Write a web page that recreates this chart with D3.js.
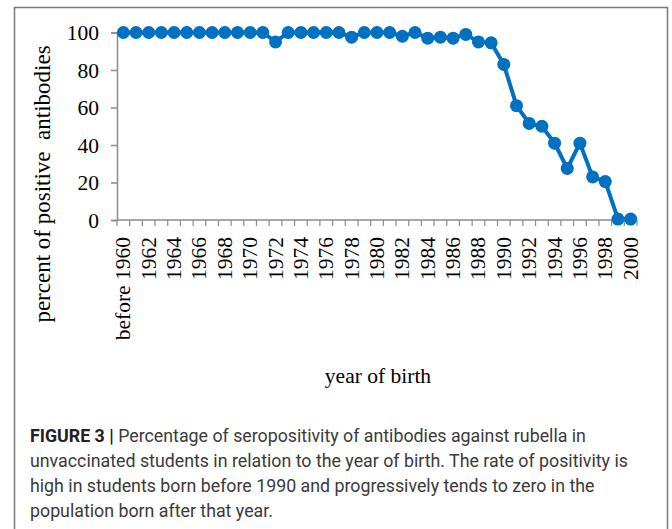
<!DOCTYPE html>
<html>
<head>
<meta charset="utf-8">
<script src="https://cdn.jsdelivr.net/npm/d3@7"></script>
<style>
  body { margin: 0; background: #fff; }
  svg { display: block; }
</style>
</head>
<body>
<div id="chart"></div>
<script>
// year of birth categories (one per point)
const years = ["before 1960", "1961", "1962", "1963", "1964", "1965", "1966", "1967", "1968", "1969",
  "1970", "1971", "1972", "1973", "1974", "1975", "1976", "1977", "1978", "1979",
  "1980", "1981", "1982", "1983", "1984", "1985", "1986", "1987", "1988", "1989",
  "1990", "1991", "1992", "1993", "1994", "1995", "1996", "1997", "1998", "1999", "2000"];

// percent of positive antibodies
const percentPositive = [100, 100, 100, 100, 100, 100, 100, 100, 100, 100,
  100, 100, 95, 100, 100, 100, 100, 100, 97.5, 100,
  100, 100, 98, 100, 97, 97.5, 97, 99, 95, 94.5,
  83, 61, 51.5, 50, 41, 27.5, 41, 23, 20.5, 0.5, 0.5];

// only every other year gets a label
const shownLabels = ["before 1960", "1962", "1964", "1966", "1968", "1970", "1972", "1974", "1976", "1978",
  "1980", "1982", "1984", "1986", "1988", "1990", "1992", "1994", "1996", "1998", "2000"];

const yTicks = [0, 20, 40, 60, 80, 100];

const captionLines = [
  "Percentage of seropositivity of antibodies against rubella in",
  "unvaccinated students in relation to the year of birth. The rate of positivity is",
  "high in students born before 1990 and progressively tends to zero in the",
  "population born after that year."
];

const W = 672, H = 529;
const blue = "#0070c0";
const axisGrey = "#8c8c8c";
const serif = "'Liberation Serif', 'Times New Roman', serif";

const svg = d3.select("#chart").append("svg")
  .attr("width", W)
  .attr("height", H);

// frame around the whole figure (open at bottom)
svg.append("path")
  .attr("d", `M14.5,${H} V7.5 H667.5 V${H}`)
  .attr("fill", "none")
  .attr("stroke", "#7a7a7a")
  .attr("stroke-width", 1.5);

const x = d3.scaleBand()
  .domain(years)
  .range([117, 637]);

const y = d3.scaleLinear()
  .domain([0, 100])
  .range([220, 32.5]);

// y axis
const yAxis = svg.append("g")
  .attr("transform", "translate(117,0)")
  .call(d3.axisLeft(y).tickValues(yTicks).tickSize(6).tickPadding(12));
yAxis.select(".domain").attr("stroke", axisGrey).attr("stroke-width", 1.5);
yAxis.selectAll(".tick line").attr("stroke", axisGrey).attr("stroke-width", 1.5);
yAxis.selectAll(".tick text")
  .attr("font-family", serif)
  .attr("font-size", 21.5)
  .attr("fill", "#000")
  .attr("dy", "0.34em");

// x axis line with ticks at the band edges
svg.append("line")
  .attr("x1", x.range()[0]).attr("x2", x.range()[1])
  .attr("y1", y(0)).attr("y2", y(0))
  .attr("stroke", axisGrey).attr("stroke-width", 1.5);

const edges = years.map(d => x(d)).concat([x.range()[1]]);
svg.selectAll("line.xtick")
  .data(edges)
  .join("line")
  .attr("class", "xtick")
  .attr("x1", d => d).attr("x2", d => d)
  .attr("y1", y(0)).attr("y2", y(0) + 6)
  .attr("stroke", axisGrey).attr("stroke-width", 1.2);

// rotated year labels
svg.selectAll("text.xlab")
  .data(shownLabels)
  .join("text")
  .attr("class", "xlab")
  .attr("transform", d => `translate(${x(d) + x.bandwidth() / 2 + 7},237) rotate(-90)`)
  .attr("text-anchor", "end")
  .attr("font-family", serif)
  .attr("font-size", 21.5)
  .attr("fill", "#000")
  .text(d => d);

// the line and its dots
const line = d3.line()
  .x((d, i) => x(years[i]) + x.bandwidth() / 2)
  .y(d => y(d));

svg.append("path")
  .datum(percentPositive)
  .attr("d", line)
  .attr("fill", "none")
  .attr("stroke", blue)
  .attr("stroke-width", 4);

svg.selectAll("circle.pt")
  .data(percentPositive)
  .join("circle")
  .attr("class", "pt")
  .attr("cx", (d, i) => x(years[i]) + x.bandwidth() / 2)
  .attr("cy", d => y(d))
  .attr("r", 6.5)
  .attr("fill", blue);

// axis titles
svg.append("text")
  .attr("transform", "translate(50,184) rotate(-90)")
  .attr("text-anchor", "middle")
  .attr("font-family", serif)
  .attr("font-size", 23)
  .attr("fill", "#000")
  .attr("xml:space", "preserve")
  .text("percent of positive  antibodies");

svg.append("text")
  .attr("x", 378)
  .attr("y", 383)
  .attr("text-anchor", "middle")
  .attr("font-family", serif)
  .attr("font-size", 21.5)
  .attr("fill", "#000")
  .text("year of birth");

// caption
const cap = svg.append("g")
  .attr("font-family", "'Liberation Sans Narrow', 'Roboto', 'Liberation Sans', sans-serif")
  .attr("font-size", 17.8)
  .attr("fill", "#3a3a3a");

captionLines.forEach((t, i) => {
  const txt = cap.append("text")
    .attr("x", 30)
    .attr("y", 442 + i * 25);
  if (i === 0) {
    txt.append("tspan").attr("font-weight", "bold").attr("fill", "#222").text("FIGURE 3 | ");
  }
  txt.append("tspan").text(t);
});
</script>
</body>
</html>
